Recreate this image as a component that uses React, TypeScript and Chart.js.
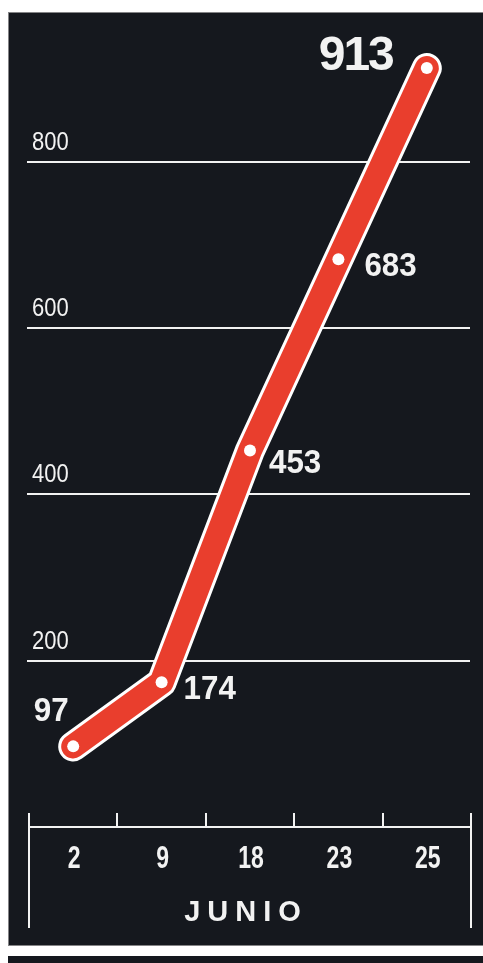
import React, { useEffect, useRef } from "react";
import { Chart, registerables } from "chart.js";

Chart.register(...registerables);

const categories = ["2", "9", "18", "23", "25"];
const values = [97, 174, 453, 683, 913];
const yTickValues = [200, 400, 600, 800];
const axisTitle = "JUNIO";

// styling of value labels (offsets from point, in px)
const labelStyles = [
  { dx: -19, dy: -34, align: "center", big: false },
  { dx: 24, dy: 8, align: "left", big: false },
  { dx: 19, dy: 13, align: "left", big: false },
  { dx: 26, dy: 8, align: "left", big: false },
  { dx: -34, dy: -11, align: "right", big: true },
];

const BG = "#15181e";
const RED = "rgb(233,62,45)";
const SANS = '"Liberation Sans", Arial, sans-serif';

function drawText(ctx: any, text: string, x: number, y: number, sx: number, align: string) {
  ctx.save();
  ctx.translate(x, y);
  ctx.scale(sx, 1);
  ctx.textAlign = align;
  ctx.fillText(text, 0, 0);
  ctx.restore();
}

const decorPlugin = {
  id: "decor",
  beforeDraw(chart: any) {
    const ctx = chart.ctx;
    ctx.save();
    ctx.fillStyle = "#ffffff";
    ctx.fillRect(0, 0, chart.width, chart.height);
    ctx.fillStyle = BG;
    ctx.fillRect(8, 12, chart.width - 8, 934);
    ctx.fillRect(8, 956, chart.width - 8, chart.height - 956);
    ctx.strokeStyle = "rgba(160,160,160,0.8)";
    ctx.lineWidth = 1;
    ctx.strokeRect(8.5, 12.5, chart.width, 933);
    ctx.restore();
  },
  beforeDatasetsDraw(chart: any) {
    const ctx = chart.ctx;
    const y = chart.scales.y;
    const area = chart.chartArea;
    ctx.save();
    ctx.strokeStyle = "#f2f2f2";
    ctx.lineWidth = 2;
    ctx.fillStyle = "#f2f2f2";
    ctx.font = `25px ${SANS}`;
    ctx.textBaseline = "middle";
    yTickValues.forEach((v) => {
      const py = Math.round(y.getPixelForValue(v));
      ctx.beginPath();
      ctx.moveTo(area.left - 2, py);
      ctx.lineTo(area.right - 1, py);
      ctx.stroke();
      drawText(ctx, String(v), area.left + 3, py - 19, 0.88, "left");
    });
    ctx.restore();
  },
  afterDatasetsDraw(chart: any) {
    const ctx = chart.ctx;
    const x = chart.scales.x;
    const y = chart.scales.y;
    const area = chart.chartArea;
    const axisY = Math.round(y.getPixelForValue(0));
    ctx.save();
    ctx.strokeStyle = "#f2f2f2";
    ctx.lineWidth = 2;
    // axis line
    ctx.beginPath();
    ctx.moveTo(area.left, axisY);
    ctx.lineTo(area.right, axisY);
    ctx.stroke();
    // boundary ticks
    const n = categories.length;
    for (let i = 0; i <= n; i++) {
      let bx: number;
      if (i === 0) bx = area.left;
      else if (i === n) bx = area.right;
      else bx = (x.getPixelForValue(i - 1) + x.getPixelForValue(i)) / 2;
      bx = Math.round(bx);
      ctx.beginPath();
      ctx.moveTo(bx, axisY - 14);
      ctx.lineTo(bx, i === 0 || i === n ? axisY + 101 : axisY);
      ctx.stroke();
    }
    // category labels
    ctx.fillStyle = "#f2f2f2";
    ctx.textBaseline = "middle";
    ctx.font = `bold 32px ${SANS}`;
    categories.forEach((c, i) => {
      drawText(ctx, c, x.getPixelForValue(i) + 1, axisY + 32, 0.72, "center");
    });
    // axis title
    ctx.font = `bold 29px ${SANS}`;
    (ctx as any).letterSpacing = "7px";
    ctx.textAlign = "center";
    ctx.fillText(axisTitle, (area.left + area.right) / 2 - 4, axisY + 86);
    (ctx as any).letterSpacing = "0px";
    // value labels
    values.forEach((v, i) => {
      const s = labelStyles[i];
      const px = x.getPixelForValue(i) - (i === 0 ? 3 : i === 1 ? 2 : 0);
      const py = y.getPixelForValue(v);
      if (s.big) {
        ctx.font = `bold 48px ${SANS}`;
        (ctx as any).letterSpacing = "-2px";
        drawText(ctx, String(v), px + s.dx, py + s.dy, 1, s.align);
      } else {
        ctx.font = `bold 33px ${SANS}`;
        (ctx as any).letterSpacing = "0px";
        drawText(ctx, String(v), px + s.dx, py + s.dy, 0.95, s.align);
      }
    });
    ctx.restore();
  },
};

export default function App() {
  const ref = useRef<HTMLCanvasElement>(null);
  useEffect(() => {
    if (!ref.current) return;
    const chart = new Chart(ref.current, {
      type: "line",
      data: {
        labels: categories,
        datasets: [
          {
            data: values,
            borderColor: RED,
            borderWidth: 24,
            borderCapStyle: "round",
            borderJoinStyle: "round",
            pointRadius: 6,
            pointBackgroundColor: "#ffffff",
            pointBorderWidth: 0,
            tension: 0,
            clip: false,
            order: 0,
          } as any,
          {
            data: values,
            borderColor: "#ffffff",
            borderWidth: 30,
            borderCapStyle: "round",
            borderJoinStyle: "round",
            pointRadius: 0,
            tension: 0,
            clip: false,
            order: 1,
          } as any,
        ],
      },
      options: {
        animation: false,
        responsive: false,
        devicePixelRatio: 1,
        layout: { padding: { left: 29, right: 12, top: 29, bottom: 136 } },
        plugins: { legend: { display: false }, tooltip: { enabled: false } },
        scales: {
          x: { type: "category", offset: true, display: false },
          y: { min: 0, max: 960, display: false },
        },
      },
      plugins: [decorPlugin],
    });
    return () => chart.destroy();
  }, []);
  return (
    <div style={{ position: "absolute", left: 0, top: 0, width: 483, height: 963 }}>
      <canvas ref={ref} width={483} height={963} style={{ width: 483, height: 963, display: "block" }} />
    </div>
  );
}
